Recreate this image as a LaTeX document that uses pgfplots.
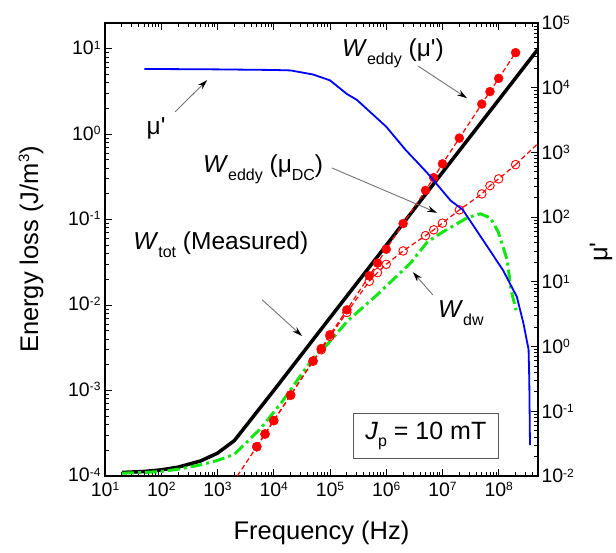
\documentclass[border=0pt]{standalone}
\usepackage{fontspec}
\setmainfont{Liberation Sans}
\usepackage{pgfplots}
\pgfplotsset{compat=1.18}
\usepackage{pgfplotstable}
\usetikzlibrary{arrows.meta,calc}

\definecolor{lgreen}{RGB}{20,230,20}
\newcommand{\sps}[1]{\raisebox{5.5pt}{\fontsize{12}{12}\selectfont #1}}
\newcommand{\labsps}[1]{\raisebox{9pt}{\fontsize{15}{15}\selectfont #1}}
\newcommand{\sbs}[1]{\raisebox{-7.5pt}{\fontsize{16}{16}\selectfont #1}}
\newcommand{\pr}{\textquotesingle}

% minor ticks, 2..9 in every decade
\def\mx{}\foreach \d in {1,...,8}{\foreach \m in {2,...,9}{\xdef\mx{\mx\m e\d,}}}
\def\myl{}\foreach \d in {-4,...,0}{\foreach \m in {2,...,9}{\xdef\myl{\myl\m e\d,}}}
\def\myr{}\foreach \d in {-2,...,4}{\foreach \m in {2,...,9}{\xdef\myr{\myr\m e\d,}}}

\pgfplotstableread{
f W
20 1.1e-4
50 1.13e-4
100 1.18e-4
200 1.27e-4
500 1.5e-4
1000 1.85e-4
2000 2.6e-4
1e4 1.0e-3
1e5 7.1e-3
1e6 5.0e-2
1e7 0.357
1e8 2.52
5e8 9.9
}\wtot

\pgfplotstableread{
f W
20 1.08e-4
50 1.1e-4
100 1.13e-4
200 1.2e-4
500 1.35e-4
1000 1.52e-4
2000 1.8e-4
5750 3.55e-4
1.41e4 7.4e-4
5.0e4 2.4e-3
9.3e4 3.55e-3
2.04e5 6.5e-3
6.9e5 0.0132
2.7e6 0.031
5.4e6 0.055
1.02e7 0.072
2.75e7 0.105
4.7e7 0.117
7.1e7 0.105
9.8e7 0.072
1.41e8 0.034
1.66e8 0.015
2.04e8 0.0087
}\wdw

\pgfplotstableread{
f W
5e3 2.2e-4
7e3 3.1e-4
1e4 4.45e-4
2e4 8.9e-4
5e4 2.22e-3
7e4 3.1e-3
1e5 4.5e-3
2e5 8.8e-3
5e5 0.022
7e5 0.031
1e6 0.045
2e6 0.09
5e6 0.22
7e6 0.31
1e7 0.45
2e7 0.9
5e7 2.25
7e7 3.15
1e8 4.5
2e8 9.0
}\wedmu

\pgfplotstableread{
f W
5e3 2.2e-4
7e3 3.1e-4
1e4 4.45e-4
2e4 8.8e-4
5e4 2.2e-3
7e4 3.0e-3
1e5 4.3e-3
2e5 8.2e-3
5e5 0.019
7e5 0.024
1e6 0.030
2e6 0.043
5e6 0.065
7e6 0.076
1e7 0.091
2e7 0.13
5e7 0.20
7e7 0.25
1e8 0.30
2e8 0.44
}\weddc

\pgfplotstableread{
f mu
50 19500
1e3 19200
1e4 18800
2e4 18500
5e4 16000
1e5 13000
2e5 8000
3e5 6500
1e6 2500
2.2e6 1100
5.4e6 480
1.4e7 180
2.3e7 130
6.3e7 35
1.2e8 15
2.1e8 5.9
2.75e8 2.3
3.4e8 0.9
3.5e8 0.3
3.6e8 0.03
}\mup

\tikzset{
  ann/.style={font=\fontsize{24.5}{25}\selectfont, inner sep=0pt},
  arr/.style={black!55, line width=0.9pt, -{Stealth[length=10pt,width=6pt,black]}},
}

\begin{document}
\begin{tikzpicture}
\pgfplotsset{
  every axis/.append style={
    scale only axis, width=433pt, height=453pt,
    xmode=log, ymode=log, xmin=10, xmax=5e8,
    tick label style={font=\fontsize{19.5}{20}\selectfont},
    xticklabel style={yshift=-3pt},
    axis line style={line width=1.3pt},
    major tick length=7pt, minor tick length=4pt,
    every tick/.style={black, line width=0.9pt},
    tick align=inside,
  },
}
\begin{axis}[
  name=ax,
  ymin=1e-4, ymax=20,
  xtick={1e1,1e2,1e3,1e4,1e5,1e6,1e7,1e8},
  xticklabels={10\sps{1},10\sps{2},10\sps{3},10\sps{4},10\sps{5},10\sps{6},10\sps{7},10\sps{8}},
  minor xtick/.expanded={\mx 1e9},
  ytick={1e-4,1e-3,1e-2,1e-1,1,10},
  yticklabels={10\sps{-4},10\sps{-3},10\sps{-2},10\sps{-1},10\sps{0},10\sps{1}},
  yticklabel style={xshift=-1pt, yshift=1pt},
  minor ytick/.expanded={\myl 2e1},
  ytick pos=left,
]
\addplot[black, line width=3.5pt] table[x=f,y=W] {\wtot};
\addplot[lgreen, line width=3pt, dash pattern=on 12pt off 4pt on 3pt off 4pt] table[x=f,y=W] {\wdw};
\addplot[red, line width=1.2pt, dash pattern=on 5pt off 3pt] coordinates {(2250,1e-4) (5e3,2.2e-4)};
\addplot[red, line width=1.2pt, dash pattern=on 5pt off 3pt] table[x=f,y=W] {\wedmu};
\addplot[red, line width=1.2pt, dash pattern=on 5pt off 3pt] table[x=f,y=W] {\weddc};
\addplot[red, line width=1.2pt, dash pattern=on 5pt off 3pt] coordinates {(2e8,0.44) (5e8,0.78)};
\addplot[only marks, mark=o, mark size=4.3pt, red, line width=0.9pt] table[x=f,y=W] {\weddc};
\addplot[only marks, mark=*, mark size=4.5pt, red] table[x=f,y=W] {\wedmu};

\node[ann] at (rel axis cs:0.118,0.768) {μ\pr};
\draw[arr] (rel axis cs:0.162,0.804) -- (rel axis cs:0.236,0.874);
\node[ann, anchor=base west] at (rel axis cs:0.547,0.925) {\textit{W}\sbs{eddy} (μ\pr)};
\draw[arr] (rel axis cs:0.723,0.905) -- (rel axis cs:0.836,0.834);
\node[ann, anchor=base west] at (rel axis cs:0.226,0.669) {\textit{W}\sbs{eddy} (μ\sbs{DC})};
\draw[arr] (rel axis cs:0.524,0.680) -- (rel axis cs:0.767,0.581);
\node[ann, anchor=base west] at (rel axis cs:0.065,0.499) {\textit{W}\sbs{tot} (Measured)};
\draw[arr] (rel axis cs:0.363,0.389) -- (rel axis cs:0.455,0.309);
\node[ann, anchor=base west] at (rel axis cs:0.769,0.349) {\textit{W}\sbs{dw}};
\draw[arr] (rel axis cs:0.757,0.400) -- (rel axis cs:0.711,0.450);
\node[draw=black!65, line width=0.9pt, fill=white, minimum width=145pt, minimum height=45pt,
  font=\fontsize{25}{26}\selectfont] at (rel axis cs:0.741,0.088) {\textit{J}\sbs{p} = 10 mT};
\end{axis}

\begin{axis}[
  axis x line=none, axis y line*=right,
  ymin=1e-2, ymax=1e5,
  ytick={1e-2,1e-1,1,1e1,1e2,1e3,1e4,1e5},
  yticklabels={10\sps{-2},10\sps{-1},10\sps{0},10\sps{1},10\sps{2},10\sps{3},10\sps{4},10\sps{5}},
  minor ytick/.expanded={\myr 1e6},
]
\addplot[blue, line width=1.8pt] table[x=f,y=mu] {\mup};
\end{axis}

\node[font=\fontsize{25.5}{26}\selectfont] at ($(ax.south)+(0,-57pt)$) {Frequency (Hz)};
\node[rotate=90, font=\fontsize{25.5}{26}\selectfont] at ($(ax.west)+(-74pt,0)$) {Energy loss (J/m\labsps{3})};
\node[rotate=90, font=\fontsize{25.5}{26}\selectfont] at ($(ax.east)+(63pt,-2.5pt)$) {μ\pr};

\pgfresetboundingbox
\path ($(ax.south west)+(-105pt,-76pt)$) rectangle ($(ax.north east)+(78pt,23pt)$);
\end{tikzpicture}
\end{document}
